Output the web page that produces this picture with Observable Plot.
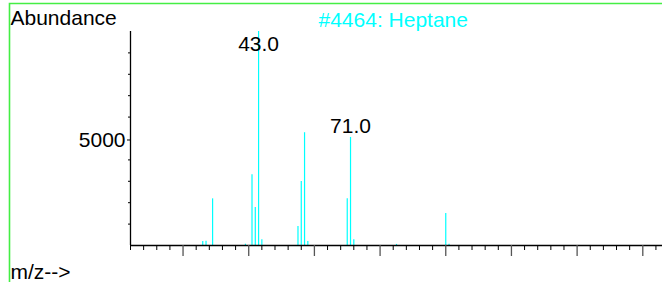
<!DOCTYPE html>
<html>
<head>
<meta charset="utf-8">
<script src="https://cdn.jsdelivr.net/npm/d3@7"></script>
<script src="https://cdn.jsdelivr.net/npm/@observablehq/plot@0.6"></script>
<style>
  html, body { margin: 0; padding: 0; background: #fff; }
  #wrap { width: 662px; height: 282px; overflow: hidden; background: #fff; }
  #wrap svg { display: block; }
</style>
</head>
<body>
<div id="wrap"></div>
<script>
// m/z values and abundances
const mz        = [26, 27, 29, 39, 41, 42, 43, 44, 55, 56, 57, 58, 70, 71, 72, 85, 100, 101];
const abundance = [190, 200, 2180, 60, 3310, 1770, 9999, 265, 890, 2990, 5270, 190, 2190, 5050, 265, 50, 1490, 60];
const labelTop  = [43];   // labels pinned inside the frame top
const labelAbove = [71];  // labels drawn above their peak
const xMajorTicks = [20, 40, 60, 80, 100, 120, 140, 160];
const xMinorTicks = d3.range(4, 167, 4).filter(d => !xMajorTicks.includes(d));
const yMinorTicks = [1000, 2000, 3000, 4000, 6000, 7000, 8000, 9000];
const yLabelTicks = [5000];
const title = "#4464: Heptane";
const yTitle = "Abundance";
const xTitle = "m/z-->";

const peaks = mz.map((m, i) => ({mz: m, abundance: abundance[i]}));
const lookup = m => peaks.find(p => p.mz === m);
const fmt = d3.format(".1f");

const chart = Plot.plot({
  width: 662,
  height: 282,
  marginLeft: 130,
  marginRight: 0,
  marginTop: 31,
  marginBottom: 37,
  x: {domain: [4, 166], axis: null},
  y: {domain: [0, 9999], axis: null},
  style: {fontFamily: "'Liberation Sans', Arial, sans-serif", fontSize: "21px", color: "#000", background: "#fff"},
  marks: [
    Plot.ruleX(peaks, {x: "mz", y1: 0, y2: "abundance", stroke: "#00ffff", strokeWidth: 1.2}),
    Plot.ruleY([0], {stroke: "#000", strokeWidth: 1.3}),
    Plot.ruleX([4], {stroke: "#000", strokeWidth: 1.3}),
    Plot.axisX(xMinorTicks, {tickSize: 5, tickFormat: () => "", label: null, stroke: "#000"}),
    Plot.axisX(xMajorTicks, {tickSize: 11, tickFormat: () => "", label: null, stroke: "#555", strokeWidth: 1.3}),
    Plot.axisY(yMinorTicks, {anchor: "left", tickSize: 2, tickFormat: () => "", label: null}),
    Plot.axisY(yLabelTicks, {anchor: "left", tickSize: 3, tickPadding: 2, label: null, fontSize: 21, tickFormat: d => String(d), dy: 1.5}),
    Plot.text(labelTop.map(lookup), {x: "mz", y: "abundance", text: d => fmt(d.mz), lineAnchor: "bottom", dy: 19, fontSize: 21}),
    Plot.text(labelAbove.map(lookup), {x: "mz", y: "abundance", text: d => fmt(d.mz), lineAnchor: "bottom", dy: -4.5, fontSize: 21}),
    Plot.text([yTitle], {text: d => d, frameAnchor: "top-left", textAnchor: "start", lineAnchor: "bottom", dx: -120, dy: -7, fontSize: 21}),
    Plot.text([title], {text: d => d, frameAnchor: "top-left", textAnchor: "start", lineAnchor: "bottom", dx: 188, dy: -5, fontSize: 21, fill: "#00ffff"}),
    Plot.text([xTitle], {text: d => d, frameAnchor: "bottom-left", textAnchor: "start", lineAnchor: "bottom", dx: -120, dy: 33, fontSize: 21})
  ]
});
// decorative green page border (top and left edges)
d3.select(chart).append("path")
  .attr("d", "M9.5,290V3.5H670")
  .attr("fill", "none")
  .attr("stroke", "#44ee44")
  .attr("stroke-width", 1.6);
document.getElementById("wrap").appendChild(chart);
</script>
</body>
</html>
